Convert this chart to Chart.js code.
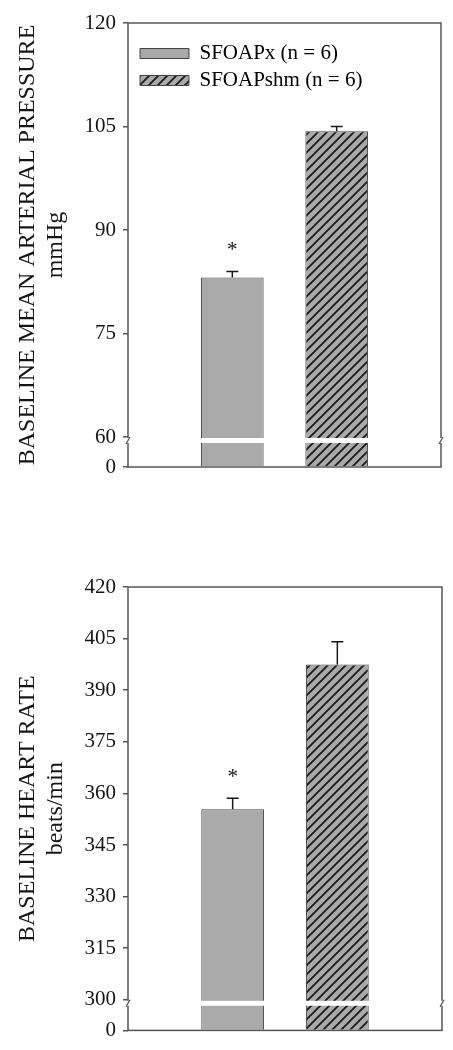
<!DOCTYPE html>
<html>
<head>
<meta charset="utf-8">
<script src="https://cdn.jsdelivr.net/npm/chart.js@4.4.1/dist/chart.umd.min.js"></script>
<style>
  body { margin: 0; background: #fff; }
  canvas { display: block; }
</style>
</head>
<body>
<canvas id="map_chart" width="453" height="525"></canvas>
<canvas id="hr_chart" width="453" height="525"></canvas>
<script>
// groups and values (mean, SEM)
const groups = ['SFOAPx (n = 6)', 'SFOAPshm (n = 6)'];
const sig_marks = ['*', ''];

const map_mean = [83.1, 104.3];
const map_sem = [0.9, 0.7];
const map_ticks = [60, 75, 90, 105, 120];

const hr_mean = [355.4, 397.5];
const hr_sem = [3.2, 6.6];
const hr_ticks = [300, 315, 330, 345, 360, 375, 390, 405, 420];

const font_family = "'Liberation Serif', 'Times New Roman', serif";
const text_color = '#151515';
const axis_color = '#555';

function make_hatch() {
  const c = document.createElement('canvas');
  c.width = 9; c.height = 9;
  const g = c.getContext('2d');
  g.fillStyle = '#a9a9a9';
  g.fillRect(0, 0, 9, 9);
  g.strokeStyle = '#161616';
  g.lineWidth = 1.7;
  g.beginPath();
  g.moveTo(-1, 10); g.lineTo(10, -1);
  g.moveTo(-3, 3); g.lineTo(3, -3);
  g.moveTo(6, 12); g.lineTo(12, 6);
  g.stroke();
  return g.createPattern(c, 'repeat');
}

const bar_fills = ['#aaaaaa', make_hatch()];

// frame, axis break, error bars and significance marks
const decorations = {
  id: 'decorations',
  afterDatasetsDraw(chart) {
    const ctx = chart.ctx;
    const area = chart.chartArea;
    const y_scale = chart.scales.y;
    const extra = chart.options.plugins.decorations;

    ctx.save();
    ctx.strokeStyle = axis_color;
    ctx.lineWidth = 1.5;
    ctx.strokeRect(area.left, area.top, area.right - area.left, area.bottom - area.top);

    // white band for the broken axis
    const yb = y_scale.getPixelForValue(extra.break_at);
    ctx.fillStyle = '#fff';
    ctx.fillRect(area.left - 4, yb + 1, area.right - area.left + 8, 5);
    ctx.strokeStyle = axis_color;
    ctx.lineWidth = 1.3;
    [area.left, area.right].forEach(function (x) {
      ctx.beginPath();
      ctx.moveTo(x - 2, yb + 7); ctx.lineTo(x + 2, yb);
      ctx.stroke();
    });

    // error bars
    const meta = chart.getDatasetMeta(0);
    ctx.strokeStyle = '#1a1a1a';
    ctx.lineWidth = 1.5;
    ctx.fillStyle = text_color;
    ctx.font = '21px ' + font_family;
    ctx.textAlign = 'center';
    ctx.textBaseline = 'alphabetic';
    extra.means.forEach(function (m, i) {
      const el = meta.data[i + 1];
      const y_top = y_scale.getPixelForValue(m + extra.sems[i]);
      ctx.beginPath();
      ctx.moveTo(el.x, el.y);
      ctx.lineTo(el.x, y_top);
      ctx.moveTo(el.x - 6, y_top);
      ctx.lineTo(el.x + 6, y_top);
      ctx.stroke();
      if (sig_marks[i]) {
        ctx.fillText(sig_marks[i], el.x, y_top - 15);
      }
    });
    ctx.restore();
  }
};

// shift the in-plot legend to where the figure has it
const legend_nudge = {
  id: 'legend_nudge',
  afterLayout(chart) {
    if (chart.legend && chart.options.plugins.legend.display) {
      chart.legend.left += 6;
      chart.legend.top += 37;
    }
  }
};

function create_bar_chart(canvas_id, means, sems, tick_values, gap, title_lines, show_legend, pad) {
  const y_min = tick_values[0] - gap;
  const y_max = tick_values[tick_values.length - 1];
  return new Chart(document.getElementById(canvas_id), {
    type: 'bar',
    data: {
      labels: [''].concat(groups, ['']),
      datasets: [{
        data: [null].concat(means, [null]),
        base: y_min,
        backgroundColor: ['#fff'].concat(bar_fills, ['#fff']),
        borderColor: '#444',
        borderWidth: 1,
        barPercentage: 0.6,
        categoryPercentage: 1
      }]
    },
    options: {
      responsive: false,
      animation: false,
      devicePixelRatio: 1,
      layout: { padding: pad },
      scales: {
        x: {
          type: 'category',
          offset: false,
          display: false
        },
        y: {
          min: y_min,
          max: y_max,
          afterBuildTicks: function (scale) {
            scale.ticks = [y_min].concat(tick_values).map(function (v) { return { value: v }; });
          },
          afterFit: function (scale) { scale.width = 128; },
          ticks: {
            callback: function (value, index) { return index === 0 ? '0' : value; },
            font: { family: font_family, size: 21 },
            color: text_color,
            padding: 7
          },
          grid: {
            display: true,
            drawOnChartArea: false,
            drawTicks: true,
            tickLength: 5,
            color: axis_color,
            lineWidth: 1.5
          },
          border: { display: false },
          title: {
            display: true,
            text: title_lines,
            font: { family: font_family, size: 24, lineHeight: 1.1667 },
            color: text_color,
            padding: { top: 14, bottom: 0 }
          }
        }
      },
      plugins: {
        tooltip: { enabled: false },
        legend: {
          display: show_legend,
          position: 'chartArea',
          align: 'start',
          labels: {
            boxWidth: 49,
            boxHeight: 10,
            padding: 6,
            color: text_color,
            font: { family: font_family, size: 21 },
            generateLabels: function () {
              return groups.map(function (g, i) {
                return { text: g, fillStyle: bar_fills[i], strokeStyle: '#444', lineWidth: 1, hidden: false, index: i };
              });
            }
          }
        },
        decorations: { means: means, sems: sems, break_at: tick_values[0] }
      }
    },
    plugins: [decorations, legend_nudge]
  });
}

create_bar_chart('map_chart', map_mean, map_sem, map_ticks, 4.35,
  ['BASELINE MEAN ARTERIAL PRESSURE', 'mmHg'], true,
  { top: 23, right: 12, bottom: 58, left: 0 });

create_bar_chart('hr_chart', hr_mean, hr_sem, hr_ticks, 8.9,
  ['BASELINE HEART RATE', 'beats/min'], false,
  { top: 62, right: 11, bottom: 16, left: 0 });
</script>
</body>
</html>
